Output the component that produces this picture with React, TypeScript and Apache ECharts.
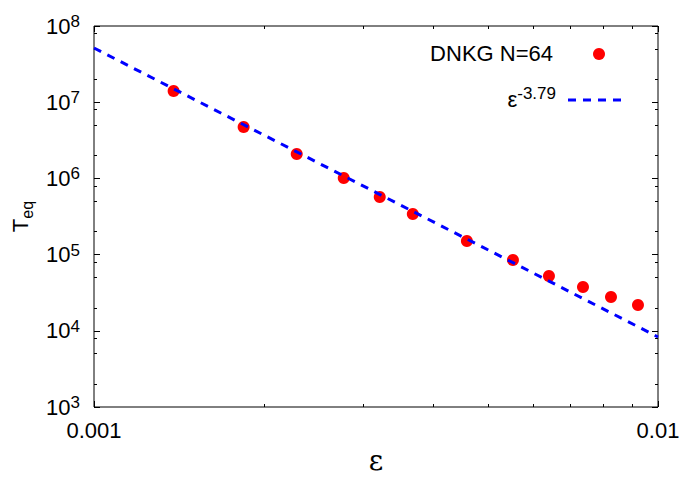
import React, { useEffect, useRef } from 'react';
import * as echarts from 'echarts';

// Data
const EPS = [0.001384, 0.001842, 0.002288, 0.002772, 0.003211, 0.003675, 0.004583, 0.005531, 0.006407, 0.007362, 0.008254, 0.009215];
const T_EQ = [1.40e7, 4.73e6, 2.09e6, 1.01e6, 5.70e5, 3.41e5, 1.51e5, 8.5e4, 5.24e4, 3.76e4, 2.78e4, 2.18e4];
const FIT_EPS = [0.001, 0.01];
const FIT_T = [5.14e7, 8.3e3];

const X_MAJOR = [0.001, 0.01];
const X_LABELS = ['0.001', '0.01'];
const X_MINOR = [0.002, 0.003, 0.004, 0.005, 0.006, 0.007, 0.008, 0.009];
const Y_MAJOR = [1e3, 1e4, 1e5, 1e6, 1e7, 1e8];
const Y_MINOR = [2e3, 5e3, 8e3, 2e4, 5e4, 8e4, 2e5, 5e5, 8e5, 2e6, 5e6, 8e6, 2e7, 5e7, 8e7];

const SERIES_NAMES = ['DNKG N=64', 'fit'];
const FIT_EXPONENT = '-3.79';

const SANS = 'Liberation Sans';
const SERIF = '"DejaVu Serif", "Liberation Serif", serif';

export default function App() {
  const ref = useRef<HTMLDivElement>(null);

  useEffect(() => {
    if (!ref.current) return;
    const chart = echarts.init(ref.current, null, { renderer: 'svg' });

    const xBase = (position: string, ticks: number[], len: number, labels: boolean) => ({
      type: 'log',
      logBase: 10,
      min: 0.001,
      max: 0.01,
      position,
      axisLine: { show: false },
      splitLine: { show: false },
      minorTick: { show: false },
      axisTick: { show: true, inside: true, length: len, customValues: ticks, lineStyle: { color: '#000', width: 1 } },
      axisLabel: labels
        ? {
            show: true,
            customValues: X_MAJOR,
            formatter: (v: number) => {
              const i = X_MAJOR.findIndex((t) => Math.abs(Math.log10(t) - Math.log10(v)) < 1e-6);
              return i >= 0 ? X_LABELS[i] : '';
            },
            fontSize: 22,
            color: '#000',
            fontFamily: SANS,
            margin: 12,
          }
        : { show: false },
    });

    const yBase = (position: string, ticks: number[], len: number, labels: boolean) => ({
      type: 'log',
      logBase: 10,
      min: 1e3,
      max: 1e8,
      position,
      axisLine: { show: false },
      splitLine: { show: false },
      minorTick: { show: false },
      axisTick: { show: true, inside: true, length: len, customValues: ticks, lineStyle: { color: '#000', width: 1 } },
      axisLabel: labels
        ? {
            show: true,
            customValues: Y_MAJOR,
            formatter: (v: number) => '{b|10}{s|' + Math.round(Math.log10(v)) + '}',
            margin: 14,
            rich: {
              b: { fontSize: 22, lineHeight: 26, color: '#000', fontFamily: SANS },
              s: { fontSize: 17, lineHeight: 17, verticalAlign: 'top', color: '#000', fontFamily: SANS },
            },
          }
        : { show: false },
    });

    const xMain: any = xBase('bottom', X_MAJOR, 6, true);
    xMain.name = 'ε';
    xMain.nameLocation = 'middle';
    xMain.nameGap = 39;
    xMain.nameTextStyle = { fontSize: 28, fontFamily: SERIF, color: '#000' };

    const yMain: any = yBase('left', Y_MAJOR, 6, true);
    yMain.name = '{t|T}{s|eq}';
    yMain.nameLocation = 'middle';
    yMain.nameRotate = 90;
    yMain.nameGap = 53;
    yMain.nameTextStyle = {
      rich: {
        t: { fontSize: 22, lineHeight: 30, color: '#000', fontFamily: SANS },
        s: { fontSize: 16, lineHeight: 16, verticalAlign: 'bottom', color: '#000', fontFamily: SANS },
      },
    };

    const option: any = {
      animation: false,
      backgroundColor: '#fff',
      textStyle: { fontFamily: SANS },
      grid: {
        left: 94,
        right: 25,
        top: 26,
        bottom: 72,
        show: true,
        borderColor: '#000',
        borderWidth: 1,
        backgroundColor: 'transparent',
      },
      xAxis: [xMain, xBase('top', X_MAJOR, 6, false), xBase('bottom', X_MINOR, 3, false), xBase('top', X_MINOR, 3, false)],
      yAxis: [yMain, yBase('right', Y_MAJOR, 6, false), yBase('left', Y_MINOR, 3, false), yBase('right', Y_MINOR, 3, false)],
      series: [
        {
          name: SERIES_NAMES[0],
          type: 'scatter',
          xAxisIndex: 0,
          yAxisIndex: 0,
          symbol: 'circle',
          symbolSize: 12,
          itemStyle: { color: '#ff0000', opacity: 1 },
          data: EPS.map((x, i) => [x, T_EQ[i]]),
        },
        {
          name: SERIES_NAMES[1],
          type: 'line',
          xAxisIndex: 0,
          yAxisIndex: 0,
          symbol: 'none',
          lineStyle: { color: '#0000ff', width: 3, type: [8, 7], opacity: 1 },
          data: FIT_EPS.map((x, i) => [x, FIT_T[i]]),
        },
      ],
      graphic: [
        {
          type: 'text',
          x: 553,
          y: 53,
          style: { text: SERIES_NAMES[0], fontSize: 22, fontFamily: SANS, fill: '#000', align: 'right', verticalAlign: 'middle' },
        },
        { type: 'circle', shape: { cx: 599, cy: 54, r: 6 }, style: { fill: '#ff0000' } },
        {
          type: 'text',
          x: 556,
          y: 99,
          style: {
            text: '{e|ε}{s|' + FIT_EXPONENT + '}',
            align: 'right',
            verticalAlign: 'middle',
            rich: {
              e: { fontSize: 22, lineHeight: 28, fontFamily: SANS, fill: '#000' },
              s: { fontSize: 17, lineHeight: 17, verticalAlign: 'top', fontFamily: SANS, fill: '#000' },
            },
          },
        },
        {
          type: 'line',
          shape: { x1: 568, y1: 100, x2: 626, y2: 100 },
          style: { stroke: '#0000ff', lineWidth: 3, lineDash: [8, 7] },
        },
      ],
    };

    chart.setOption(option);
    return () => chart.dispose();
  }, []);

  return <div ref={ref} style={{ width: 683, height: 479, position: 'absolute', left: 0, top: 0 }} />;
}
